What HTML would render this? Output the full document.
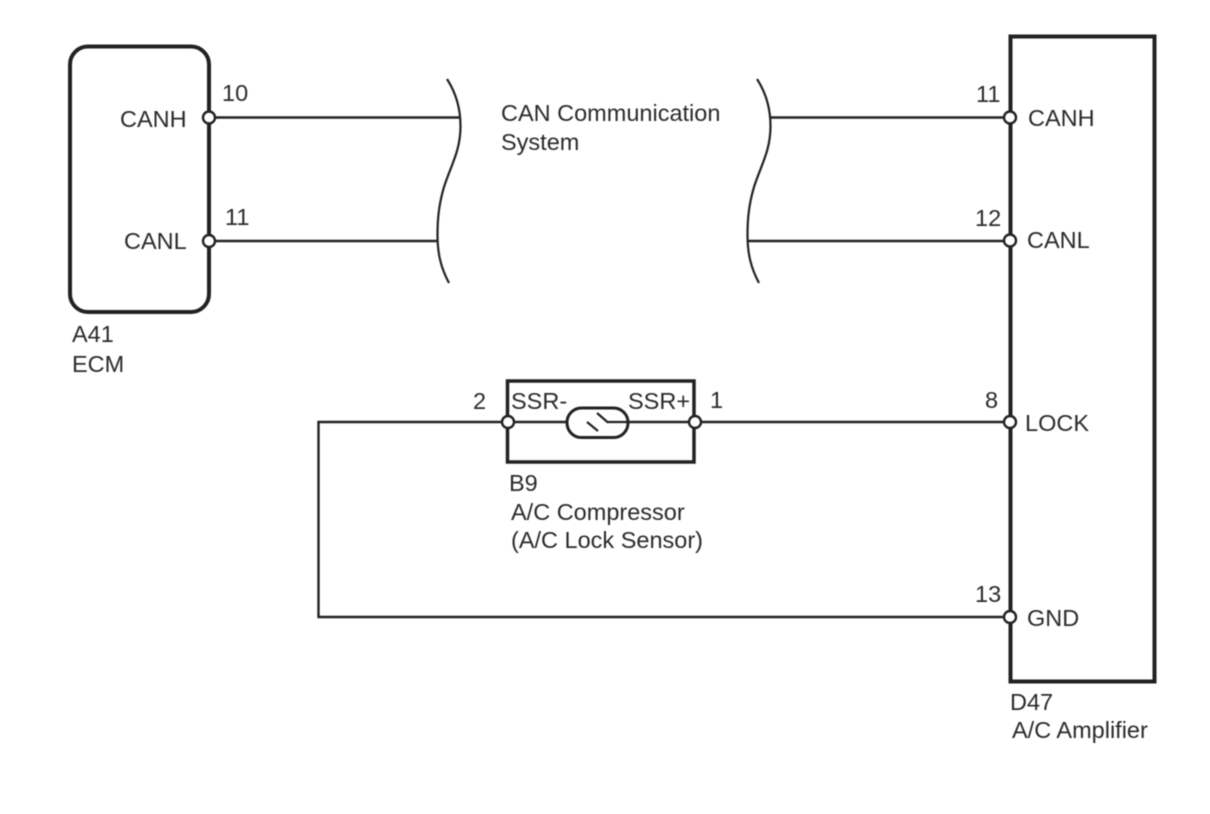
<!DOCTYPE html>
<html><head><meta charset="utf-8"><style>
html,body{margin:0;padding:0;background:#fff}
svg{display:block;filter:blur(0.4px)}
text{font-family:"Liberation Sans",sans-serif;font-size:23.500px;fill:#2a2a2a}
</style></head><body>
<svg width="1210" height="814" viewBox="0 0 1210 814" xmlns="http://www.w3.org/2000/svg">
<rect width="1210" height="814" fill="#fff"/>
<g fill="none" stroke="#222">
<rect x="70" y="46.500" width="139" height="265.500" rx="18" ry="18" stroke-width="4"/>
<rect x="1010.500" y="36.500" width="144" height="645" stroke-width="4"/>
<rect x="507.500" y="381" width="186.500" height="81" stroke-width="3.500"/>
<g stroke-width="2.400">
<path d="M209 117.500H460"/>
<path d="M209 241H438"/>
<path d="M771 117.500H1010"/>
<path d="M748 241H1010"/>
<path d="M508 422H318.500V617H1010"/>
<path d="M508 422H695"/>
<path d="M695 422H1010"/>
</g>
<g stroke-width="2.200">
<path d="M447 79C456 93 460.500 108 460.500 126C460.500 151 451 165 444 187C439 204 437.500 218 437.500 235C437.500 254 441 268 449 283"/>
<path d="M757 79C766 93 770.500 108 770.500 126C770.500 151 761 165 754 187C749 204 747.500 218 747.500 235C747.500 254 751 268 759 283"/>
</g>
<rect x="567" y="408" width="61" height="29.500" rx="14.500" ry="14.500" fill="#fff" stroke-width="3"/>
<path d="M587 422L598 431M597 413L608 422.500M607 422H628" stroke-width="2.200"/>
<g fill="#fff" stroke-width="2.400">
<circle cx="209" cy="117.500" r="6"/>
<circle cx="209" cy="241" r="6"/>
<circle cx="1010" cy="117.500" r="6"/>
<circle cx="1010" cy="240.500" r="6"/>
<circle cx="1010" cy="422" r="6"/>
<circle cx="1010" cy="617" r="6"/>
<circle cx="508" cy="422" r="6"/>
<circle cx="695" cy="422" r="6"/>
</g>
</g>
<text x="120" y="127">CANH</text>
<text x="124" y="249">CANL</text>
<text x="222" y="101">10</text>
<text x="225" y="225">11</text>
<text x="72" y="342">A41</text>
<text x="72" y="372">ECM</text>
<text x="501" y="121">CAN Communication</text>
<text x="501" y="150">System</text>
<text x="976" y="102">11</text>
<text x="975" y="226">12</text>
<text x="1028" y="126">CANH</text>
<text x="1027" y="248">CANL</text>
<text x="985" y="408">8</text>
<text x="1025" y="431">LOCK</text>
<text x="975" y="602">13</text>
<text x="1027" y="626">GND</text>
<text x="1010" y="710">D47</text>
<text x="1012" y="738">A/C Amplifier</text>
<text x="473" y="409">2</text>
<text x="511" y="409">SSR-</text>
<text x="628" y="409">SSR+</text>
<text x="710" y="408">1</text>
<text x="509" y="491">B9</text>
<text x="511" y="520">A/C Compressor</text>
<text x="511" y="548">(A/C Lock Sensor)</text>
</svg>
</body></html>
